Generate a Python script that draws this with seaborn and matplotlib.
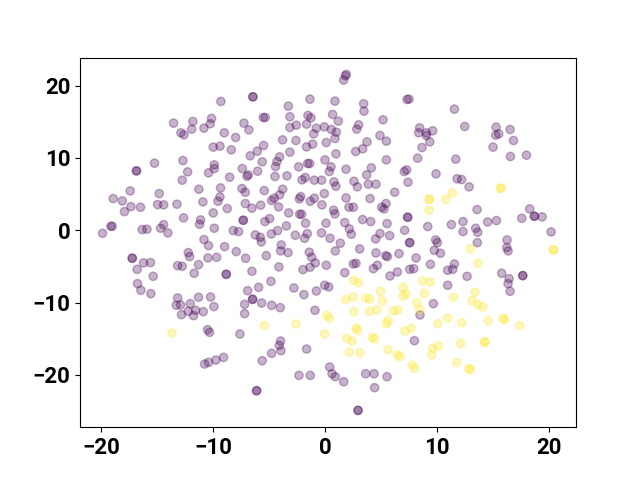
import matplotlib
matplotlib.use("Agg")
import matplotlib.pyplot as plt
import pandas as pd
import seaborn as sns

# points, (x, y), by quadrant; repeated pairs are the darker dots
upper_left = [
    (-9.32,17.81),(-6.46,18.45),(-6.46,18.45),(-3.30,17.16),(-1.37,18.13),(-5.54,15.59),(-5.36,15.59),
    (-3.16,15.69),(-1.55,15.87),(-1.28,15.55),(-13.54,14.81),(-11.82,15.04),(-10.15,15.46),(-10.27,14.72),
    (-10.83,14.12),(-11.93,13.98),(-12.89,13.47),(-12.62,13.19),(-7.26,14.81),(-6.82,13.89),(-2.59,14.53),
    (-3.16,14.21),(-1.67,14.67),(-0.80,14.12),(-1.04,13.33),(-0.09,14.30),(-9.02,13.47),(-8.00,12.83),
    (-3.81,12.50),(-2.62,12.41),(0.09,12.13),(-10.00,11.49),(-9.40,11.63),(-8.39,11.12),(-5.51,11.72),
    (-6.07,10.93),(-6.70,10.29),(-1.13,11.91),(-1.67,11.53),(-3.16,10.80),(-4.08,10.15),(-4.32,9.50),
    (-4.44,8.81),(-5.63,9.46),(-15.24,9.27),(-12.71,9.64),(-16.85,8.21),(-16.85,8.21),(-12.29,8.07),
    (-9.91,9.04),(-9.91,8.53),(-10.42,7.94),(-7.41,8.53),(-6.87,7.66),(-6.99,7.47),(-6.04,8.17),
    (-0.03,9.73),(-1.58,9.23),(-1.40,9.23),(-2.38,8.77),(-4.49,7.43),(-3.42,7.52),(-8.54,7.34),
    (-12.77,6.92),(-1.79,7.29),(-2.08,6.97),(-0.98,6.92),(-0.33,6.92),(-11.28,5.67),(-9.35,5.86),
    (-7.44,5.77),(-7.14,5.26),(-3.81,5.67),(-5.45,5.49),(-17.41,5.44),(-14.82,5.07),(-18.93,4.38),
    (-18.12,4.06),(-17.35,3.27),(-16.49,3.18),(-17.92,2.58),(-14.97,3.55),(-14.43,3.51),(-13.24,3.60),
    (-10.92,3.92),(-9.40,4.61),(-9.58,4.01),(-4.08,4.89),(-4.56,4.43),(-4.79,4.11),(-2.20,4.66),
    (-2.32,4.34),(-0.09,5.07),(-0.98,4.43),(-1.34,4.01),(-7.14,3.69),(-5.77,3.46),(-6.55,3.05),
    (-4.17,3.23),(-0.30,3.51),(-8.75,3.00),(-10.00,2.40),(-3.27,2.40),(-2.29,2.21),(-2.11,2.21),
    (-12.65,1.71),(-7.32,1.38),(-7.32,1.38),(-4.97,1.61),(-5.39,1.20),(-1.76,0.97),(0.06,0.97),
    (-11.13,1.43),(-11.22,0.83),(-3.48,0.60),(-19.14,0.55),(-19.02,0.55),(-14.43,0.78),(-14.70,0.28),
    (-16.34,0.09),(-15.92,0.14),(-9.91,0.28),(-14.05,-0.37),(-19.88,-0.42),(-8.21,-0.05),(-7.74,-0.18),
    (-6.25,-0.65),(-5.80,-0.97),(-4.26,-0.05),(-4.82,-0.51),(-2.68,-0.69),(-1.61,-0.46),(-1.85,-1.11),
    (-0.33,-0.37),(-10.83,-1.29),
]
lower_left = [
    (-17.23,-3.87),(-17.23,-3.87),(-16.22,-4.52),(-15.60,-4.47),(-16.79,-5.40),(-15.36,-6.37),(-16.76,-7.38),
    (-16.46,-8.30),(-15.57,-8.77),(-12.23,-3.09),(-12.11,-3.64),(-10.42,-2.12),(-8.99,-2.26),(-7.95,-2.95),
    (-7.11,-3.87),(-10.48,-3.83),(-9.70,-3.74),(-13.18,-4.89),(-12.77,-4.98),(-11.31,-4.75),(-11.70,-5.95),
    (-8.84,-6.09),(-8.84,-6.09),(-6.55,-5.67),(-5.27,-3.51),(-3.93,-2.03),(-3.99,-2.86),(-3.33,-3.09),
    (-4.14,-5.07),(-5.71,-1.61),(-1.43,-3.04),(-1.22,-3.74),(-0.89,-4.52),(-1.37,-5.12),(-1.99,-5.44),
    (0.09,-4.84),(-4.85,-7.06),(-5.95,-7.89),(-6.93,-8.35),(-2.80,-7.98),(-1.91,-8.90),(-0.80,-8.40),
    (-0.06,-7.61),(0.30,-7.84),(-6.49,-9.55),(-6.49,-9.55),(-5.68,-10.06),(-4.79,-10.38),(-4.02,-10.70),
    (-7.20,-10.24),(-7.20,-11.53),(-0.92,-11.07),(-13.18,-9.36),(-13.30,-10.38),(-12.92,-10.33),(-12.05,-10.15),
    (-11.31,-9.27),(-10.24,-9.23),(-9.94,-10.56),(-10.89,-11.26),(-11.58,-11.07),(-12.23,-11.21),(-12.83,-11.67),
    (-11.76,-11.81),(-10.51,-13.75),(-10.33,-14.12),(-7.62,-14.35),(-3.99,-15.32),(-4.11,-15.92),(-3.96,-16.65),
    (-4.79,-17.02),(-5.63,-18.04),(-1.67,-16.42),(-9.08,-17.58),(-9.76,-17.95),(-10.42,-18.27),(-10.77,-18.50),
    (-2.35,-20.07),(-1.34,-20.07),(0.39,-18.91),(0.60,-19.84),(-6.13,-22.19),(-6.13,-22.19),
]
upper_right = [
    (1.88,21.55),(1.79,21.36),(1.64,20.76),(0.86,17.86),(3.42,17.49),(3.45,16.47),(0.65,16.01),(1.16,15.09),
    (5.15,15.27),(7.29,18.09),(7.47,18.13),(11.52,16.75),(2.98,14.58),(2.80,13.98),(0.54,13.93),(0.98,13.56),
    (0.86,12.69),(4.88,13.10),(5.45,12.32),(3.72,12.22),(3.33,11.26),(2.71,10.89),(0.95,10.57),(8.42,14.16),
    (8.33,13.47),(9.58,13.75),(9.02,13.47),(9.02,13.10),(9.32,12.22),(8.63,11.44),(12.44,14.35),(15.24,14.26),
    (15.21,13.15),(15.48,13.33),(16.49,13.93),(16.79,12.41),(14.97,11.49),(16.52,10.20),(17.95,10.38),(5.45,9.73),
    (8.24,9.97),(11.64,9.83),(0.51,8.77),(0.36,8.12),(1.85,8.44),(4.11,8.63),(3.69,7.66),(7.26,8.35),
    (7.05,8.12),(9.88,7.80),(11.76,7.11),(12.17,7.01),(12.83,6.00),(7.38,6.64),(2.56,6.78),(2.86,6.00),
    (3.84,6.37),(4.52,6.37),(0.77,6.69),(0.95,6.09),(6.19,5.26),(3.99,4.38),(1.85,4.47),(2.11,3.18),
    (2.50,3.18),(5.42,3.69),(5.03,3.18),(5.24,2.95),(0.74,2.77),(0.86,2.26),(3.33,1.48),(4.05,1.20),
    (1.73,1.06),(5.51,0.92),(2.14,0.19),(2.32,-0.55),(4.88,-0.46),(5.74,-0.74),(4.49,-1.20),(7.08,0.00),
    (7.35,1.80),(7.35,1.80),(9.14,0.51),(11.25,0.78),(12.29,1.20),(12.29,-0.18),(13.54,2.86),(13.42,0.28),
    (13.60,-0.28),(14.49,1.15),(15.27,1.34),(17.53,1.66),(18.24,2.95),(18.66,1.94),(18.66,1.94),(19.35,1.85),
    (20.15,-0.23),(9.85,-1.34),(10.00,-1.71),(13.57,-1.71),(16.22,-1.34),(7.53,-1.71),(7.53,-1.71),(1.34,-1.80),
    (0.42,-1.11),
]
lower_right = [
    (0.89,-2.86),(3.07,-2.58),(4.52,-3.14),(5.39,-3.51),(5.54,-3.64),(6.58,-3.23),(8.10,-3.83),(9.73,-2.77),
    (10.27,-3.18),(16.19,-2.40),(16.31,-2.86),(2.50,-4.66),(2.74,-4.57),(4.64,-4.84),(4.29,-5.31),(1.73,-5.86),
    (6.43,-5.77),(5.77,-6.32),(7.53,-5.40),(7.89,-5.31),(9.38,-4.71),(11.52,-4.66),(10.92,-5.54),(11.37,-5.40),
    (12.65,-6.37),(15.74,-5.95),(16.40,-6.69),(16.31,-7.38),(16.49,-8.44),(17.62,-6.27),(17.62,-6.27),(10.92,-7.61),
    (9.64,-10.15),(8.45,-11.72),(7.95,-15.27),(0.89,-20.25),(1.64,-20.95),(3.60,-19.84),(4.35,-19.84),(5.51,-20.25),
    (4.40,-21.77),(2.92,-24.91),(2.92,-24.91),
]
yellow_upper = [
    (9.29,4.29),(9.29,4.29),(9.26,2.77),(10.74,4.29),(11.34,5.17),(15.65,5.81),(15.65,5.81),
]
yellow_left = [
    (-13.69,-14.21),(-5.45,-13.19),(-2.62,-12.96),(-0.06,-14.35),(0.12,-11.76),(0.36,-12.18),
]
yellow_right = [
    (12.95,-2.58),(13.63,-4.52),(20.36,-2.72),(20.36,-2.72),(2.53,-6.92),(2.95,-7.24),(8.66,-7.01),(9.35,-7.15),
    (6.96,-7.89),(4.94,-8.44),(7.20,-8.81),(6.93,-9.09),(8.84,-8.72),(13.36,-8.58),(1.82,-9.55),(2.47,-9.23),
    (3.60,-9.37),(3.96,-9.50),(5.09,-9.78),(11.43,-9.27),(13.07,-9.73),(8.18,-10.01),(13.63,-10.29),(14.05,-10.61),
    (2.56,-11.26),(3.93,-11.21),(4.58,-11.03),(6.07,-11.17),(6.46,-11.03),(8.42,-10.98),(5.60,-12.50),(5.45,-12.92),
    (10.03,-12.92),(10.92,-12.13),(12.17,-12.78),(14.55,-12.50),(15.89,-12.18),(15.98,-12.36),(17.35,-13.19),(7.65,-13.56),
    (7.11,-13.93),(2.74,-13.56),(2.89,-13.84),(1.90,-14.90),(2.38,-15.32),(4.20,-14.81),(4.40,-15.04),(12.08,-15.64),
    (14.23,-15.45),(14.23,-15.45),(10.09,-16.01),(9.58,-16.33),(9.49,-17.25),(5.60,-16.52),(6.43,-17.21),(6.67,-17.48),
    (2.14,-16.84),(3.10,-16.93),(11.73,-18.31),(7.77,-18.64),(7.98,-19.10),(12.80,-19.15),(12.95,-19.24),
]
x_ticks = [-20, -10, 0, 10, 20]
y_ticks = [-20, -10, 0, 10, 20]

purple = upper_left + lower_left + upper_right + lower_right
yellow = yellow_upper + yellow_left + yellow_right
df = pd.DataFrame(purple + yellow, columns=["x", "y"])
df["label"] = [0] * len(purple) + [1] * len(yellow)

plt.rcParams["font.family"] = ["Roboto", "DejaVu Sans"]

fig, ax = plt.subplots(figsize=(6.4, 4.8), dpi=100)
sns.scatterplot(data=df, x="x", y="y", hue="label",
                palette={0: "#440154", 1: "#fde725"},
                alpha=0.3, s=36, linewidth=1.0, edgecolor="face",
                legend=False, ax=ax)
ax.set_xlabel("")
ax.set_ylabel("")
ax.set_xticks(x_ticks)
ax.set_yticks(y_ticks)
for lab in ax.get_xticklabels() + ax.get_yticklabels():
    lab.set_fontsize(16)
    lab.set_fontweight("bold")

fig.savefig("out.png", dpi=100)
